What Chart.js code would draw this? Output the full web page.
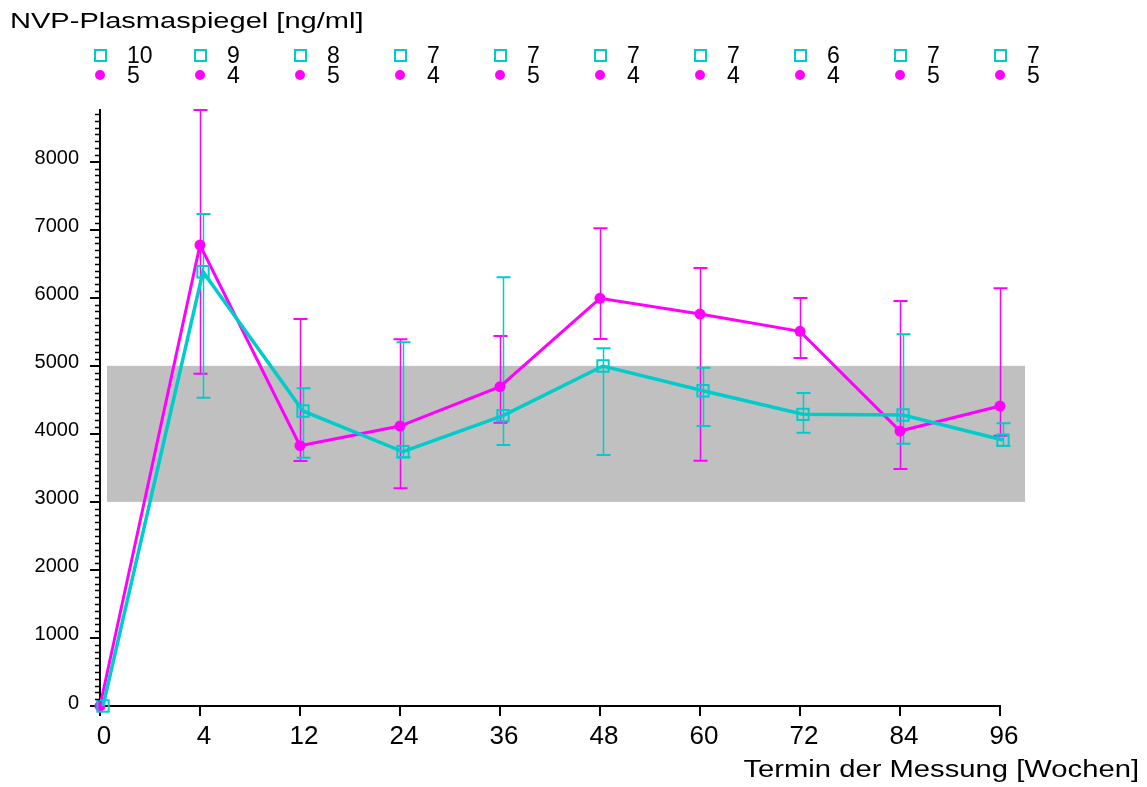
<!DOCTYPE html>
<html>
<head>
<meta charset="utf-8">
<script src="https://cdn.jsdelivr.net/npm/chart.js@4.4.1/dist/chart.umd.min.js"></script>
<style>
  html, body { margin: 0; padding: 0; background: #fff; }
  #chart { display: block; }
</style>
</head>
<body>
<canvas id="chart" width="1147" height="787"></canvas>
<script>
// Measurement dates (weeks)
const weeks = [0, 4, 12, 24, 36, 48, 60, 72, 84, 96];

// Group A (magenta, filled circles): mean and error bar ends
const meanA  = [0, 6775, 3826, 4115, 4693, 5992, 5761, 5507, 4042, 4409];
const upperA = [null, 8760, 5688, 5389, 5438, 7021, 6437, 5996, 5952, 6139];
const lowerA = [null, 4884, 3601, 3200, 4164, 5394, 3605, 5115, 3483, 3973];
const countA = [5, 4, 5, 4, 5, 4, 4, 4, 5, 5];

// Group B (cyan, open squares)
const meanB  = [0, 6383, 4336, 3737, 4267, 4997, 4634, 4287, 4277, 3909];
const upperB = [null, 7231, 4669, 5345, 6301, 5257, 4972, 4600, 5463, 4155];
const lowerB = [null, 4531, 3649, 3655, 3836, 3689, 4115, 4017, 3855, 3821];
const countB = [10, 9, 8, 7, 7, 7, 7, 6, 7, 7];

// Therapeutic range
const rangeLow = 3000;
const rangeHigh = 5000;

const yTicks = [0, 1000, 2000, 3000, 4000, 5000, 6000, 7000, 8000];
const yMax = 8760;

const MAGENTA = '#ff00ff';
const CYAN = '#00cccc';
const FONT = '"Liberation Sans", Arial, sans-serif';
const SHIFT_B = 0.03; // small sideways shift so both groups stay visible

// Gray band for the target range
const rangeBand = {
    id: 'rangeBand',
    beforeDatasetsDraw(chart) {
        const { ctx, scales: { x, y } } = chart;
        const left = x.getPixelForValue(0.07);
        const right = x.getPixelForValue(9.25);
        const top = y.getPixelForValue(rangeHigh);
        const bottom = y.getPixelForValue(rangeLow);
        ctx.save();
        ctx.fillStyle = '#c0c0c0';
        ctx.fillRect(left, top, right - left, bottom - top);
        ctx.restore();
    }
};

// Error bars with caps for both groups
const errorBars = {
    id: 'errorBars',
    beforeDatasetsDraw(chart) {
        const { ctx, scales: { x, y } } = chart;
        const groups = [
            { up: upperA, lo: lowerA, color: MAGENTA, shift: 0 },
            { up: upperB, lo: lowerB, color: CYAN, shift: SHIFT_B }
        ];
        ctx.save();
        groups.forEach(g => {
            ctx.strokeStyle = g.color;
            g.up.forEach((u, i) => {
                if (u === null) return;
                const px = Math.round(x.getPixelForValue(i + g.shift)) + 0.5;
                const pu = y.getPixelForValue(u);
                const pl = y.getPixelForValue(g.lo[i]);
                ctx.lineWidth = 1.5;
                ctx.beginPath();
                ctx.moveTo(px, pu);
                ctx.lineTo(px, pl);
                ctx.stroke();
                ctx.lineWidth = 2;
                ctx.beginPath();
                ctx.moveTo(px - 7, pu);
                ctx.lineTo(px + 7, pu);
                ctx.moveTo(px - 7, pl);
                ctx.lineTo(px + 7, pl);
                ctx.stroke();
            });
        });
        ctx.restore();
    }
};

// Minor ticks on the y axis every 100
const minorTicks = {
    id: 'minorTicks',
    afterDraw(chart) {
        const { ctx, scales: { y } } = chart;
        ctx.save();
        ctx.strokeStyle = '#000';
        ctx.lineWidth = 1.5;
        ctx.beginPath();
        for (let v = 100; v < yMax; v += 100) {
            if (v % 1000 === 0) continue;
            const py = Math.round(y.getPixelForValue(v)) + 0.5;
            ctx.moveTo(y.right - 5, py);
            ctx.lineTo(y.right, py);
        }
        ctx.stroke();
        ctx.restore();
    }
};

// draws text stretched horizontally
function wideText(ctx, text, x, y, size, stretch, align) {
    ctx.save();
    ctx.font = size + 'px ' + FONT;
    ctx.textAlign = align;
    ctx.translate(x, y);
    ctx.scale(stretch, 1);
    ctx.fillText(text, 0, 0);
    ctx.restore();
}

// Titles and the per-date patient counts above the plot
const headerText = {
    id: 'headerText',
    afterDraw(chart) {
        const { ctx, scales: { x } } = chart;
        ctx.save();
        ctx.fillStyle = '#000';
        ctx.textBaseline = 'alphabetic';

        wideText(ctx, 'NVP-Plasmaspiegel [ng/ml]', 10, 28, 22, 1.32, 'left');
        wideText(ctx, 'Termin der Messung [Wochen]', 1139, 777, 23, 1.27, 'right');

        ctx.font = '23px ' + FONT;
        ctx.textAlign = 'left';
        weeks.forEach((w, i) => {
            const px = Math.round(x.getPixelForValue(i));
            ctx.strokeStyle = CYAN;
            ctx.lineWidth = 2;
            ctx.strokeRect(px - 5, 50, 11, 11);
            ctx.fillStyle = MAGENTA;
            ctx.beginPath();
            ctx.arc(px, 75, 5, 0, Math.PI * 2);
            ctx.fill();
            ctx.fillStyle = '#000';
            ctx.fillText(String(countB[i]), px + 27, 63);
            ctx.fillText(String(countA[i]), px + 27, 83);
        });
        ctx.restore();
    }
};

new Chart(document.getElementById('chart'), {
    type: 'line',
    data: {
        datasets: [
            {
                label: 'A',
                data: meanA.map((v, i) => ({ x: i, y: v })),
                borderColor: MAGENTA,
                backgroundColor: MAGENTA,
                borderWidth: 3,
                pointStyle: 'circle',
                pointRadius: 5.5,
                pointBorderWidth: 0,
                pointBackgroundColor: MAGENTA,
                tension: 0,
                clip: false,
                order: 1
            },
            {
                label: 'B',
                data: meanB.map((v, i) => ({ x: i + SHIFT_B, y: v })),
                borderColor: CYAN,
                backgroundColor: 'rgba(0,0,0,0)',
                borderWidth: 3.5,
                pointStyle: 'rect',
                pointRadius: 8,
                pointBorderWidth: 2,
                pointBorderColor: CYAN,
                pointBackgroundColor: 'rgba(0,0,0,0)',
                tension: 0,
                clip: false,
                order: 0
            }
        ]
    },
    options: {
        responsive: false,
        animation: false,
        devicePixelRatio: 1,
        layout: { padding: { top: 110, right: 147, left: 0, bottom: 0 } },
        plugins: {
            legend: { display: false },
            tooltip: { enabled: false }
        },
        scales: {
            x: {
                type: 'linear',
                min: 0,
                max: 9,
                afterFit(scale) { scale.height = 81; },
                afterBuildTicks(scale) {
                    scale.ticks = weeks.map((w, i) => ({ value: i }));
                },
                ticks: {
                    callback: (v) => String(weeks[v]),
                    color: '#000',
                    font: { family: FONT, size: 26 },
                    padding: 5,
                    labelOffset: 4,
                    maxRotation: 0,
                    autoSkip: false
                },
                grid: {
                    display: true,
                    drawOnChartArea: false,
                    drawTicks: true,
                    tickLength: 10,
                    color: '#000',
                    lineWidth: 2
                },
                border: { display: true, color: '#000', width: 2 }
            },
            y: {
                type: 'linear',
                min: 0,
                max: yMax,
                afterFit(scale) { scale.width = 100; },
                afterBuildTicks(scale) {
                    scale.ticks = yTicks.map(v => ({ value: v }));
                },
                ticks: {
                    callback: (v) => String(v),
                    color: '#000',
                    font: { family: FONT, size: 20 },
                    padding: 11,
                    labelOffset: -3,
                    includeBounds: false
                },
                grid: {
                    display: true,
                    drawOnChartArea: false,
                    drawTicks: true,
                    tickLength: 10,
                    color: '#000',
                    lineWidth: 2
                },
                border: { display: true, color: '#000', width: 2 }
            }
        }
    },
    plugins: [rangeBand, errorBars, minorTicks, headerText]
});
</script>
</body>
</html>
